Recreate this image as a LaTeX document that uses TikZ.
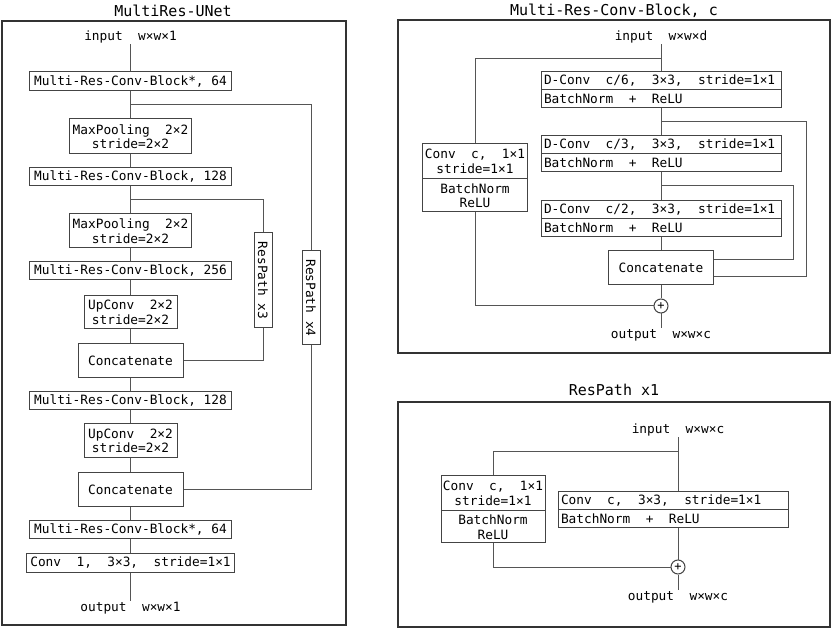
\documentclass[tikz,border=0pt]{standalone}
\usepackage{fontspec}
\setmainfont{DejaVu Sans Mono}
\definecolor{lc}{HTML}{555555}
\definecolor{bc}{HTML}{444444}
\definecolor{fc}{HTML}{333333}
\newcommand{\boxfont}{\fontsize{12.8}{14.5}\selectfont}
\newcommand{\titlefont}{\fontsize{15}{17}\selectfont}
\newcommand{\plusfont}{\fontsize{12}{12}\selectfont}
\newcommand{\lft}[2]{\makebox[#1][l]{#2}}
\begin{document}
\begin{tikzpicture}[x=1pt,y=-1pt,
  conn/.style={draw=lc, line width=1pt},
  box/.style={draw=bc, line width=1pt, inner sep=0pt, font=\boxfont, align=center, fill=white},
  lbl/.style={font=\boxfont, inner sep=1pt},
  frame/.style={draw=fc, line width=1.3pt},
  ttl/.style={font=\titlefont, inner sep=0pt},
  plusnode/.style={circle, draw=bc, line width=1pt, minimum size=14pt, inner sep=0pt, font=\plusfont, fill=white}]
\useasboundingbox (0,0) rectangle (831,628);

% ---------------- left panel: MultiRes-UNet ----------------
\node[ttl] (t1) at (173,11) {MultiRes-UNet};
\draw[frame] (2,21) rectangle (346,625);

\node[lbl] (in1) at (130.5,37) {input~~w×w×1};
\node[box, minimum width=202pt, minimum height=19pt] (b1) at (130.5,81.5) {Multi-Res-Conv-Block*, 64};
\node[box, minimum width=122pt, minimum height=35pt] (mp1) at (130.5,136.5) {MaxPooling~~2×2\\stride=2×2};
\node[box, minimum width=202pt, minimum height=18pt] (b2) at (130.5,177) {Multi-Res-Conv-Block, 128};
\node[box, minimum width=122pt, minimum height=34pt] (mp2) at (130.5,231) {MaxPooling~~2×2\\stride=2×2};
\node[box, minimum width=202pt, minimum height=18pt] (b3) at (130.5,271) {Multi-Res-Conv-Block, 256};
\node[box, minimum width=93pt, minimum height=33pt] (up1) at (130.5,312.5) {UpConv~~2×2\\stride=2×2};
\node[box, minimum width=105pt, minimum height=34pt] (cat1) at (130.5,361) {Concatenate};
\node[box, minimum width=202pt, minimum height=18pt] (b4) at (130.5,400.5) {Multi-Res-Conv-Block, 128};
\node[box, minimum width=93pt, minimum height=34pt] (up2) at (130.5,441) {UpConv~~2×2\\stride=2×2};
\node[box, minimum width=105pt, minimum height=34pt] (cat2) at (130.5,490) {Concatenate};
\node[box, minimum width=202pt, minimum height=18pt] (b5) at (130.5,529.5) {Multi-Res-Conv-Block*, 64};
\node[box, minimum width=208pt, minimum height=19pt] (cv) at (130.5,562.5) {Conv~~1,~~3×3,~~stride=1×1};
\node[lbl] (out1) at (130.5,608) {output~~w×w×1};

\node[box, minimum width=18pt, minimum height=95pt] (rp3) at (263,280.5) {};
\node[font=\boxfont, rotate=-90, inner sep=0pt] (rp3t) at (rp3.center) {ResPath x3};
\node[box, minimum width=18pt, minimum height=94pt] (rp4) at (311,298) {};
\node[font=\boxfont, rotate=-90, inner sep=0pt] (rp4t) at (rp4.center) {ResPath x4};

\draw[conn] (in1.south) -- (b1.north);
\draw[conn] (b1.south) -- (mp1.north);
\draw[conn] (mp1.south) -- (b2.north);
\draw[conn] (b2.south) -- (mp2.north);
\draw[conn] (mp2.south) -- (b3.north);
\draw[conn] (b3.south) -- (up1.north);
\draw[conn] (up1.south) -- (cat1.north);
\draw[conn] (cat1.south) -- (b4.north);
\draw[conn] (b4.south) -- (up2.north);
\draw[conn] (up2.south) -- (cat2.north);
\draw[conn] (cat2.south) -- (b5.north);
\draw[conn] (b5.south) -- (cv.north);
\draw[conn] (cv.south) -- (out1.north);

\coordinate (s1) at (130.5,105);
\coordinate (s2) at (130.5,200);
\draw[conn] (s1) -| (rp4.north);
\draw[conn] (rp4.south) |- (cat2.east);
\draw[conn] (s2) -| (rp3.north);
\draw[conn] (rp3.south) |- (cat1.east);

% ---------------- right top: Multi-Res-Conv-Block, c ----------------
\node[ttl] (t2) at (614,11) {Multi-Res-Conv-Block, c};
\draw[frame] (398,20) rectangle (830,353);

\node[lbl] (in2) at (661,37) {input~~w×w×d};
\node[box, minimum width=240pt, minimum height=18pt] (d1a) at (661,81) {\lft{234pt}{D-Conv~~c/6,~~3×3,~~stride=1×1}};
\node[box, minimum width=240pt, minimum height=18pt] (d1b) at (661,99) {\lft{234pt}{BatchNorm~~+~~ReLU}};
\node[box, minimum width=240pt, minimum height=18pt] (d2a) at (661,145) {\lft{234pt}{D-Conv~~c/3,~~3×3,~~stride=1×1}};
\node[box, minimum width=240pt, minimum height=18pt] (d2b) at (661,163) {\lft{234pt}{BatchNorm~~+~~ReLU}};
\node[box, minimum width=240pt, minimum height=18pt] (d3a) at (661,210) {\lft{234pt}{D-Conv~~c/2,~~3×3,~~stride=1×1}};
\node[box, minimum width=240pt, minimum height=18pt] (d3b) at (661,228) {\lft{234pt}{BatchNorm~~+~~ReLU}};
\node[box, minimum width=105pt, minimum height=34pt] (cat3) at (661,268) {Concatenate};
\node[plusnode] (p1) at (661,306) {+};
\node[lbl] (out2) at (661,335) {output~~w×w×c};

\node[box, minimum width=105pt, minimum height=35pt] (cca) at (475,161.5) {Conv~~c,~~1×1\\stride=1×1};
\node[box, minimum width=105pt, minimum height=33pt] (ccb) at (475,195.5) {BatchNorm\\ReLU};

\draw[conn] (in2.south) -- (d1a.north);
\draw[conn] (d1b.south) -- (d2a.north);
\draw[conn] (d2b.south) -- (d3a.north);
\draw[conn] (d3b.south) -- (cat3.north);
\draw[conn] (cat3.south) -- (p1.north);
\draw[conn] (p1.south) -- (out2.north);

\coordinate (r0) at (661,59);
\coordinate (r1) at (661,122);
\coordinate (r1c) at (806,277);
\coordinate (r2) at (661,186);
\coordinate (r2c) at (793,260);
\draw[conn] (r0) -| (cca.north);
\draw[conn] (ccb.south) |- (p1.west);
\draw[conn] (r1) -| (r1c) -- (r1c -| cat3.east);
\draw[conn] (r2) -| (r2c) -- (r2c -| cat3.east);

% ---------------- right bottom: ResPath x1 ----------------
\node[ttl] (t3) at (614,390) {ResPath x1};
\draw[frame] (398,402) rectangle (830,627);

\node[lbl] (in3) at (678,430) {input~~w×w×c};
\node[box, minimum width=104pt, minimum height=35pt] (rc1a) at (493,493.5) {Conv~~c,~~1×1\\stride=1×1};
\node[box, minimum width=104pt, minimum height=32pt] (rc1b) at (493,527) {BatchNorm\\ReLU};
\node[box, minimum width=230pt, minimum height=18pt] (rc2a) at (673,501) {\lft{224pt}{Conv~~c,~~3×3,~~stride=1×1}};
\node[box, minimum width=230pt, minimum height=18pt] (rc2b) at (673,519) {\lft{224pt}{BatchNorm~~+~~ReLU}};
\node[plusnode] (p2) at (678,567) {+};
\node[lbl] (out3) at (678,597) {output~~w×w×c};

\coordinate (q0) at (678,452);
\draw[conn] (in3.south) -- (in3.south |- rc2a.north);
\draw[conn] (rc2b.south -| p2.north) -- (p2.north);
\draw[conn] (p2.south) -- (out3.north);
\draw[conn] (q0) -| (rc1a.north);
\draw[conn] (rc1b.south) |- (p2.west);
\end{tikzpicture}
\end{document}
